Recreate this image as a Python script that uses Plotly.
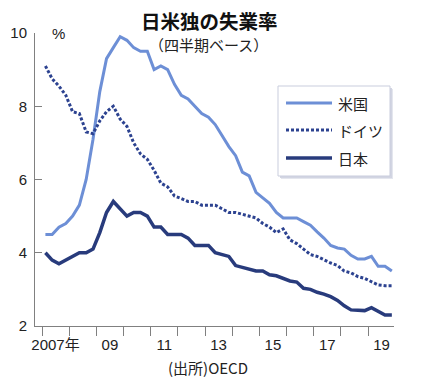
import pandas as pd
import plotly.graph_objects as go

# ---- data (quarterly unemployment rate, %) ----
quarters = pd.period_range("2007Q1", "2019Q4", freq="Q")
us = [4.5, 4.5, 4.7, 4.8,
      5.0, 5.3, 6.0, 7.1,
      8.4, 9.3, 9.6, 9.9,
      9.8, 9.6, 9.5, 9.5,
      9.0, 9.1, 9.0, 8.6,
      8.3, 8.2, 8.0, 7.8,
      7.7, 7.5, 7.2, 6.9,
      6.65, 6.2, 6.1, 5.65,
      5.5, 5.35, 5.1, 4.95,
      4.95, 4.95, 4.85, 4.75,
      4.57, 4.4, 4.2, 4.13,
      4.1, 3.93, 3.83, 3.83,
      3.9, 3.63, 3.63, 3.5]
germany = [9.1, 8.75, 8.55, 8.3,
           7.85, 7.8, 7.3, 7.25,
           7.6, 7.85, 8.0, 7.65,
           7.45, 7.0, 6.7, 6.55,
           6.25, 5.9, 5.8, 5.55,
           5.48, 5.4, 5.4, 5.3,
           5.3, 5.3, 5.2, 5.1,
           5.1, 5.05, 5.0, 4.95,
           4.8, 4.7, 4.55, 4.65,
           4.35, 4.25, 4.1, 3.95,
           3.9, 3.8, 3.72, 3.65,
           3.5, 3.45, 3.35, 3.3,
           3.2, 3.12, 3.1, 3.1]
japan = [4.0, 3.8, 3.7, 3.8,
         3.9, 4.0, 4.0, 4.1,
         4.55, 5.1, 5.4, 5.2,
         5.0, 5.1, 5.1, 5.0,
         4.7, 4.7, 4.5, 4.5,
         4.5, 4.4, 4.2, 4.2,
         4.2, 4.0, 3.95, 3.9,
         3.65, 3.6, 3.55, 3.5,
         3.5, 3.4, 3.37, 3.3,
         3.23, 3.2, 3.03, 3.0,
         2.92, 2.87, 2.8, 2.7,
         2.55, 2.44, 2.42, 2.42,
         2.5, 2.4, 2.3, 2.3]
series_names = ["米国", "ドイツ", "日本"]
tick_years = [2007, 2009, 2011, 2013, 2015, 2017, 2019]
tick_labels = ["2007年", "09", "11", "13", "15", "17", "19"]
y_ticks = [2, 4, 6, 8, 10]

# quarter mid-points as dates
x = [p.start_time + (p.end_time - p.start_time) / 2 for p in quarters]
label_pos = [f"{y}-07-01" for y in tick_years]

C_US = "#6d8fd6"
C_DE = "#2c4290"
C_JP = "#283b7c"
NUM_FONT = "Liberation Sans, Arial, Noto Sans CJK JP"
JP_FONT = "Noto Sans CJK JP, Liberation Sans"

fig = go.Figure()
fig.add_trace(go.Scatter(x=x, y=us, mode="lines", name=series_names[0],
                         line=dict(color=C_US, width=3)))
fig.add_trace(go.Scatter(x=x, y=germany, mode="lines", name=series_names[1],
                         line=dict(color=C_DE, width=3, dash="3px,2px")))
fig.add_trace(go.Scatter(x=x, y=japan, mode="lines", name=series_names[2],
                         line=dict(color=C_JP, width=3.5)))

AX = "#808080"
fig.update_xaxes(type="date", range=["2006-09-28", "2019-12-15"],
                 tickmode="array", tickvals=label_pos, ticktext=tick_labels,
                 ticks="outside", ticklen=5, tickcolor="rgba(0,0,0,0)",
                 showline=True, linecolor=AX, linewidth=1, automargin=False,
                 showgrid=False, zeroline=False, ticklabelstandoff=0,
                 tickfont=dict(family=NUM_FONT, size=15, color="#222"),
                 minor=dict(tickmode="linear", tick0="2007-01-01", dtick="M12",
                            ticks="outside", ticklen=9, tickcolor=AX,
                            tickwidth=1, showgrid=False))
fig.update_yaxes(range=[2, 10], tickvals=y_ticks, ticks="inside", ticklen=7,
                 tickcolor=AX, showline=True, linecolor=AX, linewidth=1,
                 showgrid=False, zeroline=False, ticklabelstandoff=4,
                 automargin=False,
                 tickfont=dict(family=NUM_FONT, size=15, color="#222"))

# legend drawn as a boxed key
def px_x(p):
    return (p - 35) / 359
def px_y(p):
    return (326 - p) / 293

shapes = []
# soft shadow
for off, col in [(3, "#e4e6ee"), (2, "#d2d5e2")]:
    shapes.append(dict(type="rect", xref="paper", yref="paper",
                       x0=px_x(278 + off), x1=px_x(390 + off),
                       y0=px_y(176 + off), y1=px_y(86 + off),
                       line=dict(width=0), fillcolor=col, layer="above"))
shapes.append(dict(type="rect", xref="paper", yref="paper",
                   x0=px_x(278), x1=px_x(390), y0=px_y(176), y1=px_y(86),
                   line=dict(color="#c9cddd", width=1), fillcolor="white",
                   layer="above"))
legend_rows = [(103, C_US, "solid", 3), (130, C_DE, "3px,2px", 3),
               (158, C_JP, "solid", 3.5)]
annotations = []
for (py, col, dash, w), name in zip(legend_rows, series_names):
    shapes.append(dict(type="line", xref="paper", yref="paper",
                       x0=px_x(286), x1=px_x(332), y0=px_y(py), y1=px_y(py),
                       line=dict(color=col, width=w, dash=dash), layer="above"))
    annotations.append(dict(text=name, xref="paper", yref="paper",
                            x=px_x(336), y=px_y(py), xanchor="left",
                            yanchor="middle", showarrow=False,
                            font=dict(family=JP_FONT, size=15, color="#222")))

annotations += [
    dict(text="<b>日米独の失業率</b>", xref="paper", yref="paper",
         x=px_x(209), y=px_y(20), xanchor="center", yanchor="middle",
         showarrow=False, font=dict(family=JP_FONT, size=19.5, color="#111")),
    dict(text="（四半期ベース）", xref="paper", yref="paper",
         x=px_x(208), y=px_y(44), xanchor="center", yanchor="middle",
         showarrow=False, font=dict(family=JP_FONT, size=15, color="#222")),
    dict(text="%", xref="paper", yref="paper",
         x=px_x(50), y=px_y(33), xanchor="left", yanchor="middle",
         showarrow=False, font=dict(family=NUM_FONT, size=15, color="#222")),
    dict(text="(出所)OECD", xref="paper", yref="paper",
         x=px_x(208), y=px_y(367), xanchor="center", yanchor="middle",
         showarrow=False, font=dict(family=JP_FONT, size=15, color="#222")),
]

fig.update_layout(width=440, height=380, margin=dict(l=35, r=46, t=33, b=54),
                  paper_bgcolor="white", plot_bgcolor="white",
                  showlegend=False, shapes=shapes, annotations=annotations)

fig.write_html("out.html", config={"displayModeBar": False},
               post_script="document.body.style.margin='0px';"
                           "document.body.style.padding='0px';")
